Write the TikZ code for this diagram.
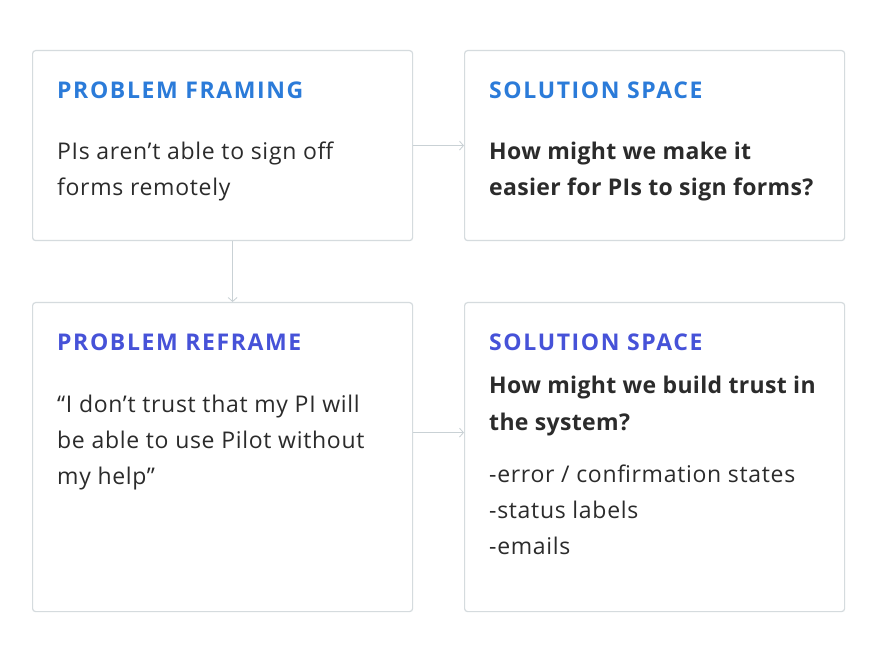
\documentclass[tikz,border=0pt]{standalone}
\usepackage{fontspec}
\setmainfont{Open Sans}
\usetikzlibrary{arrows.meta}
\definecolor{boxline}{HTML}{D5DBDE}
\definecolor{connline}{HTML}{C9D1D5}
\definecolor{titleblue}{HTML}{2B7BD9}
\definecolor{titlepurple}{HTML}{4652D8}
\definecolor{bodytext}{HTML}{2B2B2B}
\newfontfamily\titlefont[LetterSpace=7]{Open Sans Bold}
\newfontfamily\bodyfont[LetterSpace=3]{Open Sans}
\newfontfamily\bodyboldfont[LetterSpace=1.5]{Open Sans Bold}
\tikzset{
  box/.style={draw=boxline, line width=1.2pt, rounded corners=3pt, anchor=north west, minimum width=380pt, inner sep=0pt},
  conn/.style={draw=connline, line width=1pt, -{Straight Barb[length=4pt,width=9pt,line width=0.8pt]}},
  ttl/.style={anchor=base west, inner sep=0pt, font=\titlefont\fontsize{23}{28}\selectfont},
  body/.style={anchor=base west, inner sep=0pt, text=bodytext, font=\bodyfont\fontsize{23}{36}\selectfont, align=left},
  bodyb/.style={body, font=\bodyboldfont\fontsize{23}{36}\selectfont}
}
\begin{document}
\begin{tikzpicture}[x=1pt,y=-1pt]
\useasboundingbox[fill=white] (0,0) rectangle (876,660);
\node[box, minimum height=190pt] (tl) at (32,50) {};
\node[box, minimum height=190pt] (tr) at (464,50) {};
\node[box, minimum height=309pt] (bl) at (32,302) {};
\node[box, minimum height=309pt] (br) at (464,302) {};

\node[ttl, text=titleblue] (t1) at (57,99) {PROBLEM FRAMING};
\node[body] (b1) at (57,196) {PIs aren’t able to sign off\\forms remotely};

\node[ttl, text=titleblue] (t2) at (489,99) {SOLUTION SPACE};
\node[bodyb] (b2) at (489,196) {How might we make it\\easier for PIs to sign forms?};

\node[ttl, text=titlepurple] (t3) at (57,351) {PROBLEM REFRAME};
\node[body] (b3) at (57,484) {“I don’t trust that my PI will\\be able to use Pilot without\\my help”};

\node[ttl, text=titlepurple] (t4) at (489,351) {SOLUTION SPACE};
\node[bodyb] (b4) at (489,430) {How might we build trust in\\the system?};
\node[body] (b5) at (489,554) {-error / confirmation states\\-status labels\\-emails};

\draw[conn] (tl.east) -- (tr.west);
\draw[conn] ([yshift=24.5pt]bl.east) -- ([yshift=24.5pt]br.west);
\draw[conn] ([xshift=10pt]tl.south) -- ([xshift=10pt]bl.north);
\end{tikzpicture}
\end{document}
